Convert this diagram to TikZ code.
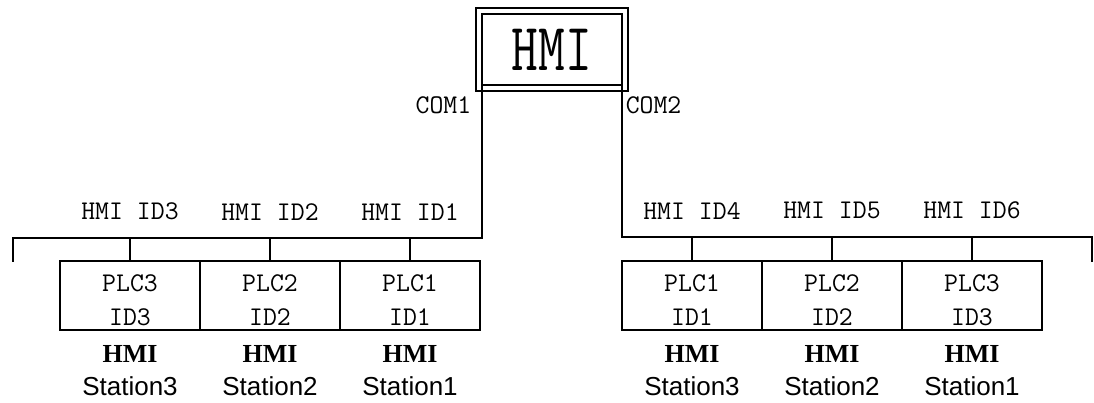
\documentclass[tikz,border=0pt]{standalone}
\usepackage{fontspec}
\usepackage{graphicx}
\usetikzlibrary{positioning,fit}
\newfontfamily\simserif{Liberation Serif}
\newfontfamily\simsans{Liberation Sans}

\begin{document}
\begin{tikzpicture}[x=1pt,y=-1pt,line width=1.5pt,
  plcbox/.style={draw,minimum width=140pt,minimum height=69pt,inner sep=0pt,outer sep=0pt,align=center,font=\ttfamily\fontsize{27}{34}\selectfont},
  idlabel/.style={inner sep=0pt,font=\ttfamily\fontsize{27}{30}\selectfont},
  hmitag/.style={inner sep=0pt,font=\simserif\bfseries\fontsize{26}{30}\selectfont},
  stationtag/.style={inner sep=0pt,font=\simsans\fontsize{26}{30}\selectfont}]
\useasboundingbox (0,0) rectangle (1094,403);
% HMI panel with its double frame
\node[draw,minimum width=140pt,minimum height=71pt,inner sep=0pt,outer sep=0pt,font=\ttfamily\fontsize{52}{56}\selectfont] (hmi) at (552,49.5) {\scalebox{1}[1.3]{HMI}};
\node[draw,fit=(hmi),inner sep=6pt] (hmiframe) {};
\node[idlabel,anchor=east] (com1) at ([xshift=-10pt,yshift=-20pt]hmi.south west) {COM1};
\node[idlabel,anchor=west] (com2) at ([xshift=3pt,yshift=-20pt]hmi.south east) {COM2};
% COM1 bus
\coordinate (lbus) at (13,238);
\coordinate (lbusend) at (13,262);
\draw (hmi.south west) |- (lbus) -- (lbusend);
\node[plcbox] (plcL3) at (130,295.5) {PLC3\rule{0pt}{26.5pt}\\ID3};
\node[plcbox,right=0pt of plcL3] (plcL2) {PLC2\rule{0pt}{26.5pt}\\ID2};
\node[plcbox,right=0pt of plcL2] (plcL1) {PLC1\rule{0pt}{26.5pt}\\ID1};
\coordinate (jL3) at (plcL3.north |- lbus);
\coordinate (jL2) at (plcL2.north |- lbus);
\coordinate (jL1) at (plcL1.north |- lbus);
\draw (plcL3.north) -- (jL3);
\draw (plcL2.north) -- (jL2);
\draw (plcL1.north) -- (jL1);
\node[idlabel,above=17pt of jL3] (idL3) {HMI ID3};
\node[idlabel,above=17pt of jL2] (idL2) {HMI ID2};
\node[idlabel,above=17pt of jL1] (idL1) {HMI ID1};
\node[hmitag,below=15pt of plcL3] (tagL3) {HMI};
\node[hmitag,below=15pt of plcL2] (tagL2) {HMI};
\node[hmitag,below=15pt of plcL1] (tagL1) {HMI};
\node[stationtag,below=12pt of tagL3] (staL3) {Station3};
\node[stationtag,below=12pt of tagL2] (staL2) {Station2};
\node[stationtag,below=12pt of tagL1] (staL1) {Station1};
% COM2 bus
\coordinate (rbus) at (1092,237);
\coordinate (rbusend) at (1092,262);
\draw (hmi.south east) |- (rbus) -- (rbusend);
\node[plcbox] (plcR1) at (692,295.5) {PLC1\rule{0pt}{26.5pt}\\ID1};
\node[plcbox,right=0pt of plcR1] (plcR2) {PLC2\rule{0pt}{26.5pt}\\ID2};
\node[plcbox,right=0pt of plcR2] (plcR3) {PLC3\rule{0pt}{26.5pt}\\ID3};
\coordinate (jR1) at (plcR1.north |- rbus);
\coordinate (jR2) at (plcR2.north |- rbus);
\coordinate (jR3) at (plcR3.north |- rbus);
\draw (plcR1.north) -- (jR1);
\draw (plcR2.north) -- (jR2);
\draw (plcR3.north) -- (jR3);
\node[idlabel,above=17pt of jR1] (idR1) {HMI ID4};
\node[idlabel,above=17pt of jR2] (idR2) {HMI ID5};
\node[idlabel,above=17pt of jR3] (idR3) {HMI ID6};
\node[hmitag,below=15pt of plcR1] (tagR1) {HMI};
\node[hmitag,below=15pt of plcR2] (tagR2) {HMI};
\node[hmitag,below=15pt of plcR3] (tagR3) {HMI};
\node[stationtag,below=12pt of tagR1] (staR1) {Station3};
\node[stationtag,below=12pt of tagR2] (staR2) {Station2};
\node[stationtag,below=12pt of tagR3] (staR3) {Station1};
\end{tikzpicture}
\end{document}
